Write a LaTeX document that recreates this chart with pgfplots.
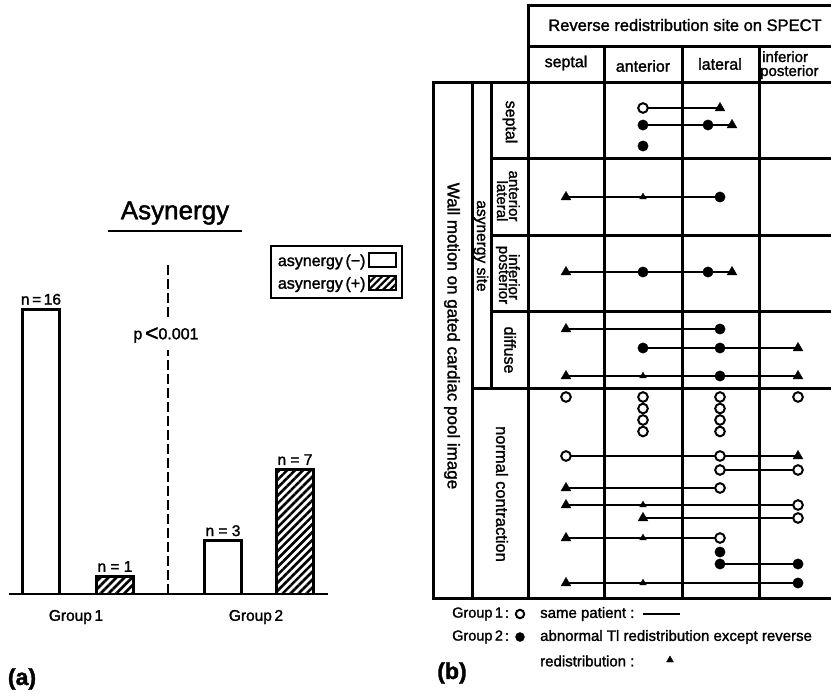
\documentclass[border=0pt]{standalone}
\usepackage{fontspec}
\setmainfont{Liberation Sans}[FakeBold=1.6]
\usepackage{pgfplots}
\pgfplotsset{compat=1.18}
\usetikzlibrary{patterns.meta}
\newcommand{\fs}[1]{\fontsize{#1}{#1}\selectfont}
\begin{document}
\begin{tikzpicture}[x=1pt,y=1pt]
\useasboundingbox (0,0) rectangle (831,694);
% ---------------- (a) bar chart ----------------
\begin{axis}[
  at={(9pt,100pt)}, anchor=south west,
  scale only axis, width=319pt, height=356pt,
  xmin=9, xmax=328, ymin=0, ymax=20,
  axis x line=bottom, hide y axis,
  x axis line style={-, line width=2.8pt},
  xtick=\empty, ytick=\empty,
  clip=false,
  legend style={at={(axis description cs:0.818,0.98)}, anchor=north west,
    draw=black, line width=2pt, font=\fs{16}, inner xsep=5pt, inner ysep=6pt, row sep=5pt},
  legend cell align=left,
  legend plot pos=right,
  every node near coord/.append style={font=\fs{15.5}, anchor=south, yshift=2pt, inner sep=1pt},
]
\addplot[ybar, bar width=37, bar shift=0pt, draw=black, fill=white, line width=2.8pt,
  nodes near coords, point meta=explicit symbolic,
  legend image code/.code={\draw[draw=black, fill=white, line width=1.8pt] (0pt,-6pt) rectangle (27pt,8pt);}]
  coordinates {(41,16) [n\,=\,16] (223,3) [n = 3]};
\addplot[ybar, bar width=37, bar shift=0pt, draw=black, line width=2.8pt,
  pattern={Lines[angle=45,distance=5.6pt,line width=2.6pt]},
  nodes near coords, point meta=explicit symbolic,
  legend image code/.code={\draw[draw=black, line width=1.8pt, pattern={Lines[angle=45,distance=5pt,line width=2.2pt]}] (0pt,-6pt) rectangle (27pt,8pt);}]
  coordinates {(115,1) [n = 1] (295,7) [n = 7]};
\addplot[black, line width=2.8pt, dash pattern=on 10pt off 4pt] coordinates {(168,0) (168,13.7)};
\addplot[black, line width=2.8pt, dash pattern=on 10pt off 4pt] coordinates {(168,15.56) (168,18.65)};
\legend{asynergy\,(−), asynergy\,(+)}
\end{axis}
% ---------------- (b) diagram + texts ----------------
\begin{axis}[
  at={(0pt,0pt)}, anchor=south west,
  scale only axis, width=831pt, height=694pt,
  xmin=0, xmax=831, ymin=0, ymax=694, y dir=reverse,
  hide axis, clip=false,
  pat/.style={black, no marks, line width=2.8pt},
  opn/.style={only marks, mark=*, mark size=4.8pt, mark options={fill=white, draw=black, line width=2pt}},
  fld/.style={only marks, mark=*, mark size=5.2pt, mark options={fill=black, draw=black}},
  tri/.style={only marks, mark=triangle*, mark size=5.6pt, mark options={fill=black, draw=black}},
  stri/.style={only marks, mark=triangle*, mark size=3.8pt, mark options={fill=black, draw=black}},
]
% texts of panel (a)
\node[font=\fs{26}] at (175,213) {Asynergy};
\draw[line width=2.2pt] (108,231) -- (242,231);
\node[font=\fs{16}] at (166,335) {p\,\raisebox{-1.5pt}{\fs{23}<}0.001};
\node[font=\fs{15.5}] at (76,617) {Group\,1};
\node[font=\fs{15.5}] at (256,617) {Group\,2};
\node[font=\bfseries\fs{23}] at (22,679) {(a)};
\node[font=\bfseries\fs{23}] at (452,673) {(b)};
% table frame
\begin{scope}[line width=3pt, line cap=rect]
\draw (528,5) -- (840,5);
\draw (528,46) -- (840,46);
\draw (433,82) -- (840,82);
\draw (491,158) -- (840,158);
\draw (491,235) -- (840,235);
\draw (491,311) -- (840,311);
\draw (472,388) -- (840,388);
\draw (433,598) -- (840,598);
\draw (528,5) -- (528,598);
\draw (604,46) -- (604,598);
\draw (682,46) -- (682,598);
\draw (759,46) -- (759,598);
\draw (433,82) -- (433,598);
\draw (472,82) -- (472,598);
\draw (491,82) -- (491,388);
\end{scope}
% header texts
\node[font=\fs{16.5}] at (685,25) {Reverse redistribution site on SPECT};
\node[font=\fs{16}] at (566,63) {septal};
\node[font=\fs{16}] at (643,66) {anterior};
\node[font=\fs{16}] at (720,64) {lateral};
\node[font=\fs{15}, anchor=base west, inner sep=0pt] at (762,62) {inferior};
\node[font=\fs{15}, anchor=base west, inner sep=0pt] at (760,76) {posterior};
\node[font=\fs{17}, rotate=-90] at (452,336) {Wall motion on gated cardiac pool image};
\node[font=\fs{15.5}, rotate=-90] at (481,246) {asynergy site};
\node[font=\fs{16}, rotate=-90] at (510,122) {septal};
\node[font=\fs{15}, rotate=-90, anchor=base] at (509,196) {anterior};
\node[font=\fs{15}, rotate=-90, anchor=base] at (497,201) {lateral};
\node[font=\fs{15}, rotate=-90, anchor=base] at (509,277) {inferior};
\node[font=\fs{15}, rotate=-90, anchor=base] at (499,275) {posterior};
\node[font=\fs{16}, rotate=-90] at (510,350) {diffuse};
\node[font=\fs{16.5}, rotate=-90] at (502,494) {normal contraction};
% patients: connecting lines
\addplot[pat] coordinates {(643,108) (720,108)};
\addplot[pat] coordinates {(643,125) (732,125)};
\addplot[pat] coordinates {(566,197) (720,197)};
\addplot[pat] coordinates {(566,272) (732,272)};
\addplot[pat] coordinates {(566,329) (720,329)};
\addplot[pat] coordinates {(643,348) (798,348)};
\addplot[pat] coordinates {(566,376) (798,376)};
\addplot[pat] coordinates {(566,456) (798,456)};
\addplot[pat] coordinates {(720,470) (798,470)};
\addplot[pat] coordinates {(566,488) (720,488)};
\addplot[pat] coordinates {(566,505) (798,505)};
\addplot[pat] coordinates {(643,518) (798,518)};
\addplot[pat] coordinates {(566,538) (720,538)};
\addplot[pat] coordinates {(720,564) (798,564)};
\addplot[pat] coordinates {(566,583) (798,583)};
% markers
\addplot[tri] coordinates {(720,108) (732,125) (566,197) (566,272) (732,272) (566,329) (798,348)
  (566,376) (798,376) (798,456) (566,488) (566,505) (643,518) (566,538) (566,583)};
\addplot[stri] coordinates {(643,197) (643,376) (643,505) (643,538) (643,583)};
\addplot[fld] coordinates {(643,125) (708,125) (643,146) (720,197) (643,272) (708,272) (720,329)
  (643,348) (720,348) (720,376) (720,552) (720,564) (798,564) (798,583)};
\addplot[opn] coordinates {(643,108) (566,397) (643,397) (643,408.5) (643,420) (643,431.5)
  (720,397) (720,408.5) (720,420) (720,431.5) (798,397) (566,456) (720,456) (720,470) (798,470)
  (720,488) (798,505) (798,518) (720,538)};
% bottom legend
\node[font=\fs{14.5}, anchor=west, inner sep=0pt] at (452,614) {Group\,1};
\node[font=\fs{14.5}, anchor=west, inner sep=0pt] at (452,637) {Group\,2};
\node[font=\fs{14.5}] at (507,614) {:};
\node[font=\fs{14.5}] at (507,637) {:};
\addplot[opn, mark size=4.2pt] coordinates {(520,614)};
\addplot[fld, mark size=4.5pt] coordinates {(520,637)};
\node[font=\fs{15}, anchor=west, inner sep=0pt] at (540,614) {same patient :};
\addplot[pat, line width=2.2pt] coordinates {(643,614) (680,614)};
\node[font=\fs{15}, anchor=west, inner sep=0pt] at (540,637) {abnormal Tl redistribution except reverse};
\node[font=\fs{15}, anchor=west, inner sep=0pt] at (540,661) {redistribution :};
\addplot[stri, mark size=4pt] coordinates {(670,660)};
\end{axis}
\end{tikzpicture}
\end{document}
